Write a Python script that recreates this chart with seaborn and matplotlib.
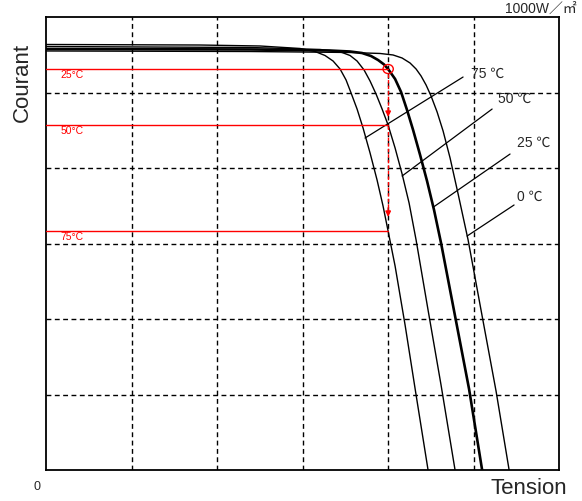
import matplotlib
matplotlib.use("Agg")
import matplotlib.pyplot as plt
from matplotlib.patches import Circle
import seaborn as sns
import pandas as pd

sns.set_theme(style="white")
plt.rcParams['font.family'] = ['Liberation Sans', 'DejaVu Sans', 'Noto Sans CJK JP']

# ---- data (grid units: 6 x 6 cells) ----
temps = ["0 ℃", "25 ℃", "50 ℃", "75 ℃"]
v_0 = [0.0, 2.383, 3.554, 3.905, 4.057, 4.163, 4.256, 4.327, 4.385, 4.444, 4.502, 4.573,
       4.643, 4.725, 4.819, 4.936, 5.100, 5.263, 5.416]
i_0 = [5.550, 5.543, 5.530, 5.517, 5.497, 5.457, 5.391, 5.311, 5.219, 5.099, 4.954, 4.742,
       4.490, 4.132, 3.656, 3.046, 2.040, 1.046, 0.0]
v_25 = [0.0, 2.383, 3.320, 3.554, 3.694, 3.800, 3.882, 3.952, 3.999, 4.081, 4.151, 4.221,
        4.292, 4.374, 4.455, 4.537, 4.619, 4.783, 4.947, 5.100]
i_25 = [5.576, 5.570, 5.556, 5.543, 5.523, 5.483, 5.430, 5.371, 5.311, 5.179, 5.007, 4.768,
        4.503, 4.172, 3.828, 3.444, 3.007, 2.040, 1.073, 0.0]
v_50 = [0.0, 2.383, 3.202, 3.343, 3.460, 3.554, 3.636, 3.718, 3.788, 3.858, 3.929, 3.999,
        4.081, 4.163, 4.245, 4.327, 4.467, 4.619, 4.783]
i_50 = [5.609, 5.596, 5.570, 5.552, 5.530, 5.490, 5.417, 5.298, 5.152, 4.980, 4.781, 4.570,
        4.265, 3.921, 3.536, 3.046, 2.119, 1.126, 0.0]
v_75 = [0.0, 1.797, 2.500, 2.968, 3.144, 3.261, 3.355, 3.437, 3.507, 3.566, 3.636, 3.706,
        3.788, 3.870, 3.940, 3.999, 4.081, 4.198, 4.327, 4.467]
i_75 = [5.636, 5.629, 5.616, 5.583, 5.543, 5.490, 5.417, 5.311, 5.166, 4.993, 4.781, 4.530,
        4.199, 3.841, 3.497, 3.166, 2.702, 1.921, 0.993, 0.0]

red_labels = ["25°C", "50°C", "75°C"]
red_levels = [5.311, 4.570, 3.166]
v_ref = 4.0

# ---- figure ----
fig = plt.figure(figsize=(5.82, 5.01), dpi=100)
ax = fig.add_axes([46.5 / 582, 1 - 470 / 501, (559 - 46.5) / 582, (470 - 17) / 501])
ax.set_xlim(0, 6)
ax.set_ylim(0, 6)

# grid
for k in range(1, 6):
    ax.axvline(k, color="black", lw=1.0, ls=(0, (3.5, 2.5)), zorder=1)
    ax.axhline(k, color="black", lw=1.0, ls=(0, (3.5, 2.5)), zorder=1)

curves = [(v_0, i_0, 1.0), (v_25, i_25, 1.9), (v_50, i_50, 1.0), (v_75, i_75, 1.0)]
for (v, i, lw), t in zip(curves, temps):
    df = pd.DataFrame({"V": v, "I": i})
    sns.lineplot(data=df, x="V", y="I", sort=False, estimator=None, color="black",
                 lw=lw, ax=ax, zorder=3)

# red reference lines
for lvl, lab in zip(red_levels, red_labels):
    ax.plot([0, v_ref], [lvl, lvl], color="red", lw=1.0, zorder=4)
    ax.text(0.16, lvl - 0.085, lab, color="red", fontsize=7.5, va="center", ha="left")

ax.add_patch(Circle((v_ref, red_levels[0]), 0.06, transform=ax.transData, fill=False,
                    edgecolor="red", lw=1.0, zorder=5))
# red dashed arrows
segs = [(red_levels[0] - 0.07, 4.675), (red_levels[1] - 0.02, 3.351)]
for y0, y1 in segs:
    ax.plot([v_ref, v_ref], [y0, y1 + 0.06], color="red", lw=1.0, ls=(0, (2.5, 1.5)), zorder=5)
    ax.annotate("", xy=(v_ref, y1), xytext=(v_ref, y1 + 0.12),
                arrowprops=dict(arrowstyle="-|>", color="red", lw=1.0, mutation_scale=8,
                                shrinkA=0, shrinkB=0), zorder=5)

# leader lines + temperature labels
leaders = [((4.924, 3.099), (5.474, 3.510)), ((4.530, 3.483), (5.427, 4.185)),
           ((4.163, 3.894), (5.217, 4.781)), ((3.729, 4.397), (4.877, 5.205))]
label_pos = [(5.509, 3.616), (5.509, 4.331), (5.286, 4.914), (4.970, 5.245)]
for (p0, p1), (lx, ly), t in zip(leaders, label_pos, temps):
    ax.plot([p0[0], p1[0]], [p0[1], p1[1]], color="black", lw=0.9, zorder=3)
    ax.text(lx, ly, t, fontsize=10, ha="left", va="center",
            family=["Liberation Sans", "Noto Sans CJK JP"])

# spines
for s in ax.spines.values():
    s.set_visible(True)
    s.set_color("black")
    s.set_linewidth(1.3)
ax.set_xticks([])
ax.set_yticks([])
ax.set_xlabel("")
ax.set_ylabel("")

# texts
fig.text(22 / 582, 1 - 82 / 501, "Courant", rotation=90, fontsize=16, ha="center", va="center")
fig.text(567 / 582, 1 - 488 / 501, "Tension", fontsize=16, ha="right", va="center")
fig.text(37 / 582, 1 - 487 / 501, "0", fontsize=9, ha="center", va="center")
fig.text(577 / 582, 1 - 9 / 501, "1000W／㎡", fontsize=10, ha="right", va="center",
         family=["Liberation Sans", "Noto Sans CJK JP"])

fig.savefig("out.png", dpi=100)
